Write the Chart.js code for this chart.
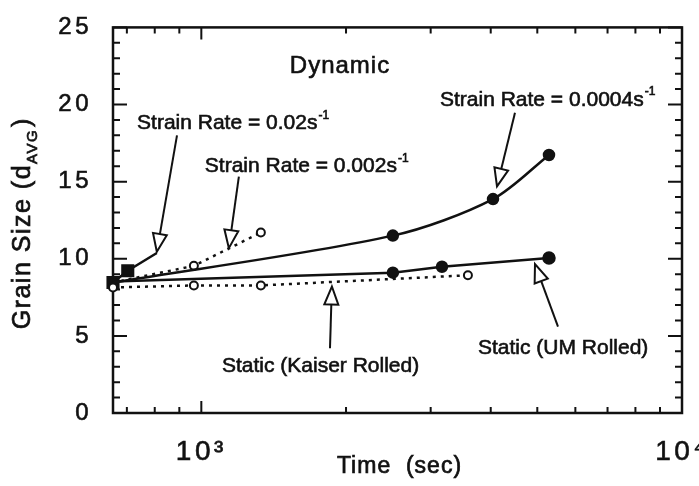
<!DOCTYPE html>
<html>
<head>
<meta charset="utf-8">
<script src="https://cdn.jsdelivr.net/npm/chart.js@4.4.1/dist/chart.umd.min.js"></script>
<style>
  html, body { margin: 0; padding: 0; background: #fff; }
  #chart { display: block; }
</style>
</head>
<body>
<canvas id="chart" width="699" height="486"></canvas>
<script>
// Series values (time in sec, grain size d_AVG)
const rate002Time = [655, 703, 808];
const rate002Size = [8.46, 9.22, 10.37];
const rate0002Time = [655, 965, 1330];
const rate0002Size = [8.46, 9.54, 11.7];
const rate00004Time = [655, 2503, 4044, 5288];
const rate00004Size = [8.46, 11.5, 13.87, 16.73];
const umTime = [655, 2503, 3167, 5288];
const umSize = [8.52, 9.1, 9.48, 10.05];
const kaiserTime = [655, 965, 1330, 3586];
const kaiserSize = [8.14, 8.27, 8.27, 8.93];

// Axis ticks
const xMajorTicks = [1000, 10000];
const xTickLabels = ["10³", "10⁴"];
const xMinorTicks = [700, 800, 900, 2000, 3000, 4000, 5000, 6000, 7000, 8000, 9000];
const yTickStep = 5;

const INK = "#111";
const FONT = '"Liberation Sans", Arial, Helvetica, sans-serif';

// Text notes placed in data coordinates
const notes = [
  { text: "Dynamic", sup: "", x: 1943, y: 22.46, align: "center", size: 24, spacing: 1 },
  { text: "Strain Rate = 0.02s", sup: "-1", x: 735, y: 18.77, align: "left", size: 21, spacing: 0 },
  { text: "Strain Rate = 0.002s", sup: "-1", x: 1017, y: 15.97, align: "left", size: 21, spacing: 0 },
  { text: "Strain Rate = 0.0004s", sup: "-1", x: 3137, y: 20.29, align: "left", size: 21, spacing: 0 },
  { text: "Static (Kaiser Rolled)", sup: "", x: 1104, y: 3.05, align: "left", size: 21, spacing: 0 },
  { text: "Static (UM Rolled)", sup: "", x: 3763, y: 4.2, align: "left", size: 21, spacing: 0 }
];

// Pointer arrows: from label to tip (data coordinates)
const arrows = [
  { from: [890, 18.0], to: [808, 10.45] },
  { from: [1197, 15.33], to: [1141, 10.69] },
  { from: [4493, 19.47], to: [4122, 14.69] },
  { from: [1852, 4.2], to: [1869, 8.2] },
  { from: [5521, 5.6], to: [4945, 9.65] }
];

function pts(xs, ys) {
  return xs.map((x, i) => ({ x: x, y: ys[i] }));
}

function drawArrow(ctx, x1, y1, x2, y2) {
  const ang = Math.atan2(y2 - y1, x2 - x1);
  const len = 18, half = 7;
  const bx = x2 - len * Math.cos(ang), by = y2 - len * Math.sin(ang);
  ctx.beginPath();
  ctx.moveTo(x1, y1);
  ctx.lineTo(bx, by);
  ctx.stroke();
  ctx.beginPath();
  ctx.moveTo(x2, y2);
  ctx.lineTo(bx + half * Math.sin(ang), by - half * Math.cos(ang));
  ctx.lineTo(bx - half * Math.sin(ang), by + half * Math.cos(ang));
  ctx.closePath();
  ctx.fillStyle = "#fff";
  ctx.fill();
  ctx.stroke();
}

// fill + thin stroke to get the heavier look of the scanned lettering
function heavyText(ctx, s, x, y) {
  ctx.fillText(s, x, y);
  ctx.strokeText(s, x, y);
}

function drawNote(ctx, n, xs, ys) {
  const px = xs.getPixelForValue(n.x), py = ys.getPixelForValue(n.y);
  ctx.letterSpacing = n.spacing + "px";
  ctx.font = n.size + "px " + FONT;
  const w = ctx.measureText(n.text).width;
  ctx.font = "12px " + FONT;
  const sw = n.sup ? ctx.measureText(n.sup).width : 0;
  const x0 = n.align === "center" ? px - (w + sw) / 2 : px;
  ctx.textBaseline = "middle";
  ctx.textAlign = "left";
  ctx.fillStyle = INK;
  ctx.strokeStyle = INK;
  ctx.lineWidth = 0.6;
  ctx.font = n.size + "px " + FONT;
  heavyText(ctx, n.text, x0, py);
  if (n.sup) {
    ctx.font = "12px " + FONT;
    heavyText(ctx, n.sup, x0 + w + 1, py - 8);
  }
}

const decorPlugin = {
  id: "decor",
  beforeDraw(chart) {
    const ctx = chart.ctx;
    ctx.save();
    ctx.fillStyle = "#fff";
    ctx.fillRect(0, 0, chart.width, chart.height);
    ctx.restore();
    // wide spacing of the tick numbers
    ctx.letterSpacing = "3.5px";
  },
  beforeDatasetsDraw(chart) {
    const ctx = chart.ctx;
    const { left, right, top, bottom } = chart.chartArea;
    const xs = chart.scales.x, ys = chart.scales.y;
    ctx.letterSpacing = "0px";
    ctx.save();
    ctx.strokeStyle = INK;
    ctx.lineWidth = 2;
    ctx.beginPath();
    // inward ticks on all four sides
    for (let v = ys.min; v <= ys.max; v += 1) {
      const y = ys.getPixelForValue(v);
      const l = v % yTickStep === 0 ? 14 : 7;
      ctx.moveTo(left, y); ctx.lineTo(left + l, y);
      ctx.moveTo(right, y); ctx.lineTo(right - l, y);
    }
    xMinorTicks.concat(xMajorTicks).forEach(v => {
      const x = xs.getPixelForValue(v);
      const l = xMajorTicks.includes(v) ? 12 : 6;
      ctx.moveTo(x, bottom); ctx.lineTo(x, bottom - l);
      ctx.moveTo(x, top); ctx.lineTo(x, top + l);
    });
    ctx.stroke();
    ctx.lineWidth = 2.5;
    ctx.strokeRect(left, top, right - left, bottom - top);
    ctx.restore();
  },
  afterDatasetsDraw(chart) {
    const ctx = chart.ctx;
    const area = chart.chartArea;
    const xs = chart.scales.x, ys = chart.scales.y;
    ctx.save();
    ctx.strokeStyle = INK;
    ctx.lineWidth = 2;
    arrows.forEach(a => {
      drawArrow(ctx,
        xs.getPixelForValue(a.from[0]), ys.getPixelForValue(a.from[1]),
        xs.getPixelForValue(a.to[0]), ys.getPixelForValue(a.to[1]));
    });
    notes.forEach(n => drawNote(ctx, n, xs, ys));

    ctx.fillStyle = INK;
    ctx.strokeStyle = INK;
    ctx.lineWidth = 0.7;

    // x axis title
    ctx.letterSpacing = "1px";
    ctx.textBaseline = "middle";
    ctx.textAlign = "center";
    ctx.font = "23px " + FONT;
    heavyText(ctx, "Time  (sec)", (area.left + area.right) / 2 + 2, 467);

    // y axis title with subscript
    const cy = (area.top + area.bottom) / 2 + 4;
    ctx.translate(23, cy);
    ctx.rotate(-Math.PI / 2);
    ctx.letterSpacing = "1.5px";
    ctx.textAlign = "left";
    const main = "Grain Size (d", sub = "AVG", close = ")";
    ctx.font = "25px " + FONT;
    const w1 = ctx.measureText(main).width, w3 = ctx.measureText(close).width;
    ctx.font = "15px " + FONT;
    const w2 = ctx.measureText(sub).width;
    let x = -(w1 + w2 + w3) / 2;
    ctx.font = "25px " + FONT;
    heavyText(ctx, main, x, 0);
    ctx.font = "15px " + FONT;
    heavyText(ctx, sub, x + w1, 10);
    ctx.font = "25px " + FONT;
    heavyText(ctx, close, x + w1 + w2 + 2, 0);
    ctx.restore();
  }
};

const solid = { borderColor: INK, borderWidth: 2.5, tension: 0, clip: false, showLine: true };
const dotted = { borderColor: INK, borderWidth: 2.5, borderDash: [3, 5], tension: 0, clip: false, showLine: true };

new Chart(document.getElementById("chart"), {
  type: "scatter",
  data: {
    datasets: [
      Object.assign({
        label: "Strain Rate = 0.0004s-1",
        data: pts(rate00004Time, rate00004Size),
        pointStyle: "circle",
        pointRadius: [0, 5, 5, 5],
        pointBackgroundColor: INK, pointBorderColor: INK
      }, solid, { tension: 0.3 }),
      Object.assign({
        label: "Static (UM Rolled)",
        data: pts(umTime, umSize),
        pointStyle: "circle",
        pointRadius: [0, 5, 5, 5.5],
        pointBackgroundColor: INK, pointBorderColor: INK
      }, solid),
      Object.assign({
        label: "Static (Kaiser Rolled)",
        data: pts(kaiserTime, kaiserSize),
        pointStyle: "circle",
        pointRadius: 4,
        pointBorderWidth: 2,
        pointBackgroundColor: "#fff", pointBorderColor: INK
      }, dotted),
      Object.assign({
        label: "Strain Rate = 0.002s-1",
        data: pts(rate0002Time, rate0002Size),
        pointStyle: "circle",
        pointRadius: [0, 4, 4],
        pointBorderWidth: 2,
        pointBackgroundColor: "#fff", pointBorderColor: INK
      }, dotted),
      Object.assign({
        label: "Strain Rate = 0.02s-1",
        data: pts(rate002Time, rate002Size),
        pointStyle: "rect",
        pointRadius: [7.5, 7.5, 0],
        pointBackgroundColor: INK, pointBorderColor: INK
      }, solid)
    ]
  },
  options: {
    responsive: false,
    animation: false,
    devicePixelRatio: 1,
    layout: { padding: { left: 0, top: 20, right: 17, bottom: 0 } },
    plugins: { legend: { display: false }, tooltip: { enabled: false } },
    scales: {
      x: {
        type: "logarithmic",
        min: 655,
        max: 10000,
        grid: { display: false },
        border: { display: false },
        afterBuildTicks: s => { s.ticks = xMajorTicks.map(v => ({ value: v })); },
        afterFit: s => { s.height = 73; s.paddingLeft = 0; s.paddingRight = 0; },
        ticks: {
          autoSkip: false,
          maxRotation: 0,
          padding: 14,
          color: INK,
          textStrokeColor: INK,
          textStrokeWidth: 0.6,
          font: { family: FONT, size: 28 },
          callback: v => {
            const i = xMajorTicks.indexOf(v);
            return i >= 0 ? xTickLabels[i] : "";
          }
        }
      },
      y: {
        min: 0,
        max: 25,
        grid: { display: false },
        border: { display: false },
        afterFit: s => { s.width = 113; },
        ticks: {
          stepSize: yTickStep,
          padding: 13,
          color: INK,
          textStrokeColor: INK,
          textStrokeWidth: 0.6,
          font: { family: FONT, size: 24 }
        }
      }
    }
  },
  plugins: [decorPlugin]
});
</script>
</body>
</html>
